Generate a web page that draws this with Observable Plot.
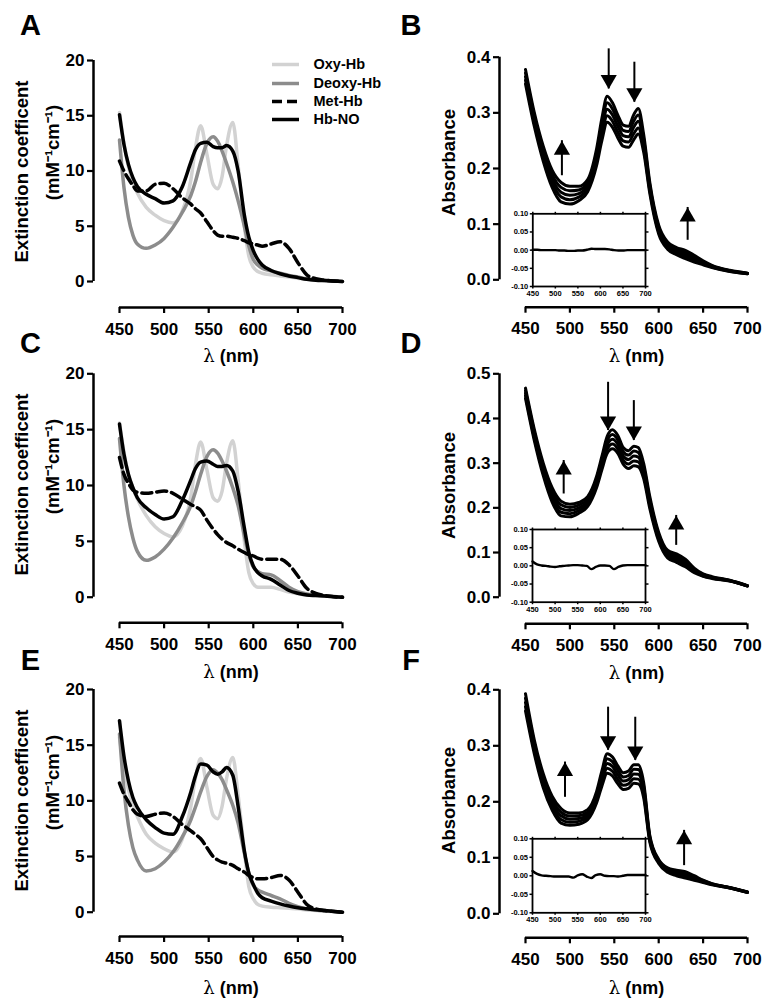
<!DOCTYPE html>
<html><head><meta charset="utf-8">
<script src="https://cdn.jsdelivr.net/npm/d3@7"></script>
<script src="https://cdn.jsdelivr.net/npm/@observablehq/plot@0.6"></script>
<style>
body{margin:0;background:#fff;}
#fig{position:relative;width:772px;height:1007px;background:#fff;overflow:hidden;}
#fig svg{position:absolute;top:0;background:transparent;}
</style></head>
<body><div id="fig"></div>
<script>
// ---------- DATA ----------
const seriesNames = ["Oxy-Hb", "Deoxy-Hb", "Met-Hb", "Hb-NO"];
const lamL = [450,455,460,465,470,480,490,500,510,520,530,535,541,548,555,560,565,570,577,583,590,595,600,605,610,620,630,640,650,660,670,680,700];

const oxyA   = [15.3,12.5,10.4,9.0,8.0,6.7,6.0,5.5,5.3,6.3,9.2,12.0,14.1,11.5,8.8,8.4,9.5,12.3,14.4,10.5,5.0,2.3,1.3,0.9,0.75,0.6,0.5,0.4,0.3,0.2,0.15,0.1,0.0];
const deoxyA = [12.8,8.5,5.8,4.2,3.4,3.0,3.3,3.9,4.9,6.2,7.8,9.0,10.8,12.5,13.1,12.7,11.8,10.7,9.0,7.3,5.0,3.2,2.0,1.5,1.2,0.95,0.75,0.55,0.4,0.25,0.15,0.1,0.0];
const metA   = [10.9,10.0,9.3,8.7,8.2,8.2,8.8,8.9,8.4,7.6,7.0,6.6,6.2,5.4,4.6,4.2,4.1,4.1,4.0,3.9,3.7,3.5,3.4,3.3,3.2,3.4,3.6,3.0,1.7,0.6,0.25,0.12,0.0];
const hbnoA  = [15.1,12.4,10.6,9.4,8.6,7.9,7.5,7.1,7.3,8.5,10.8,11.9,12.5,12.6,12.2,12.1,12.1,12.3,11.8,10.0,6.0,4.0,2.8,2.0,1.5,1.0,0.7,0.5,0.35,0.2,0.12,0.08,0.0];

const oxyC   = [15.6,13.0,11.0,9.8,8.8,7.3,6.3,5.7,5.4,6.3,9.0,11.8,13.9,11.4,8.9,8.6,9.5,12.0,14.0,10.5,5.0,2.2,1.2,0.9,0.9,0.9,0.7,0.45,0.3,0.2,0.15,0.1,0.0];
const deoxyC = [14.2,10.0,7.2,5.3,4.1,3.3,3.6,4.3,5.3,6.6,8.2,9.4,11.0,12.6,13.2,12.9,12.2,11.3,9.8,8.2,5.5,3.8,2.7,2.3,2.1,2.0,1.5,0.9,0.5,0.3,0.2,0.12,0.0];
const metC   = [12.5,11.0,10.2,9.6,9.4,9.3,9.4,9.5,9.3,8.8,8.3,8.1,7.8,6.9,6.1,5.6,5.2,4.9,4.6,4.3,4.0,3.8,3.7,3.5,3.4,3.4,3.4,2.9,1.9,0.8,0.35,0.15,0.0];
const hbnoC  = [15.5,12.8,11.0,9.8,8.9,8.0,7.4,7.0,7.2,8.6,10.5,11.5,12.1,12.2,11.9,11.7,11.7,11.8,11.3,9.5,6.2,4.0,2.8,2.2,1.9,1.6,1.1,0.6,0.35,0.2,0.15,0.1,0.0];

const oxyE   = [15.7,13.0,11.0,9.6,8.6,7.0,6.2,5.7,5.4,6.5,9.5,12.0,13.8,11.2,8.7,8.4,9.5,12.0,13.9,10.5,5.5,2.3,1.2,0.7,0.55,0.45,0.4,0.35,0.3,0.2,0.15,0.1,0.0];
const deoxyE = [16.0,11.0,7.8,5.8,4.7,3.7,3.9,4.5,5.4,6.7,8.3,9.4,10.8,12.2,12.8,12.5,11.9,11.0,9.6,8.0,5.3,3.5,2.4,2.0,1.8,1.5,1.2,0.8,0.5,0.3,0.2,0.12,0.0];
const metE   = [11.6,10.6,9.9,9.2,8.8,8.6,8.8,8.9,8.6,7.9,7.3,7.0,6.6,5.8,5.0,4.7,4.5,4.4,4.2,3.9,3.6,3.3,3.1,3.0,3.0,3.1,3.3,2.9,1.8,0.7,0.3,0.15,0.0];
const hbnoE  = [17.2,14.0,11.8,10.3,9.4,8.3,7.6,7.1,7.0,8.5,10.8,12.2,13.3,13.2,12.6,12.4,12.6,13.0,12.3,9.5,5.5,3.5,2.5,1.7,1.3,1.0,0.75,0.55,0.4,0.3,0.22,0.15,0.0];

const lamR = [450,460,470,480,490,500,510,520,530,536,542,548,554,560,566,572,577,583,590,600,610,620,630,640,650,660,680,700];
const absB = [
 [.378,.300,.240,.197,.175,.168,.168,.180,.235,.290,.330,.318,.296,.278,.276,.297,.308,.262,.175,.098,.068,.058,.053,.044,.034,.026,.017,.012],
 [.3715,.294,.233,.189,.166,.160,.1615,.1745,.2275,.280,.318,.307,.286,.2685,.2665,.286,.296,.254,.170,.094,.065,.055,.049,.041,.032,.025,.0165,.012],
 [.365,.2875,.2265,.1815,.1575,.152,.155,.169,.220,.270,.3065,.296,.2755,.259,.257,.2745,.285,.246,.165,.090,.0615,.0515,.0455,.038,.0305,.024,.016,.0115],
 [.3585,.281,.220,.174,.149,.144,.1485,.1635,.2125,.260,.295,.285,.265,.2495,.2475,.263,.273,.238,.160,.086,.058,.048,.042,.035,.029,.023,.0155,.011],
 [.352,.275,.213,.166,.140,.136,.142,.158,.205,.250,.283,.274,.255,.240,.238,.252,.262,.230,.155,.082,.055,.045,.038,.032,.027,.022,.015,.011]
];
const absD = [
 [.468,.375,.300,.245,.215,.208,.212,.225,.270,.315,.360,.375,.362,.335,.328,.338,.335,.300,.225,.145,.105,.097,.085,.065,.052,.046,.038,.026],
 [.462,.369,.293,.237,.207,.201,.206,.2195,.264,.3075,.3505,.364,.352,.326,.318,.327,.324,.2915,.218,.140,.101,.092,.081,.0625,.051,.045,.0375,.0255],
 [.4565,.3625,.286,.229,.1985,.194,.200,.214,.2575,.300,.341,.3535,.342,.3165,.308,.316,.3135,.283,.2115,.135,.0965,.0875,.0765,.060,.049,.044,.037,.0255],
 [.451,.356,.279,.221,.190,.187,.194,.2085,.251,.2925,.3315,.343,.332,.307,.298,.305,.303,.2745,.205,.130,.092,.083,.072,.0575,.048,.043,.0365,.025],
 [.445,.350,.272,.213,.182,.180,.188,.203,.245,.285,.322,.332,.322,.298,.288,.294,.292,.266,.198,.125,.088,.078,.068,.055,.047,.042,.036,.025]
];
const absF = [
 [.393,.310,.250,.210,.188,.180,.180,.186,.218,.255,.286,.280,.264,.252,.255,.266,.266,.235,.140,.097,.082,.078,.075,.068,.060,.054,.047,.039],
 [.385,.304,.244,.204,.1815,.1745,.175,.1815,.213,.248,.277,.2715,.256,.2445,.247,.258,.2575,.228,.137,.095,.080,.0755,.072,.066,.059,.0535,.0468,.0388],
 [.3775,.2975,.2375,.1975,.175,.169,.170,.177,.208,.2415,.2685,.263,.248,.237,.2395,.2495,.249,.2215,.134,.0935,.078,.073,.0695,.064,.058,.053,.0465,.0385],
 [.370,.291,.231,.191,.1685,.1635,.165,.1725,.203,.235,.260,.2545,.240,.2295,.232,.241,.2405,.215,.131,.092,.076,.0705,.067,.062,.057,.0525,.0462,.0382],
 [.362,.285,.225,.185,.162,.158,.160,.168,.198,.228,.251,.246,.232,.222,.224,.233,.232,.208,.128,.090,.074,.068,.064,.060,.056,.052,.046,.038]
];

const lamIns = [450,460,470,480,490,500,510,520,530,540,550,560,570,580,590,600,610,620,630,640,650,660,670,680,690,700];
const insB = [0.001,0.001,0.000,0.000,0.000,0.000,-0.001,-0.001,-0.002,-0.002,-0.001,-0.001,0.001,0.004,0.003,0.003,0.003,0.002,0.000,-0.001,-0.001,0.000,0.000,0.000,0.000,0.000];
const insD = [0.012,0.004,0.001,0.000,-0.002,-0.003,-0.001,0.000,0.001,0.002,0.002,0.001,0.000,-0.009,-0.003,0.001,0.001,0.000,-0.009,-0.003,0.001,0.002,0.002,0.002,0.002,0.002];
const insF = [0.013,0.005,0.001,0.000,-0.001,-0.002,-0.002,-0.002,-0.002,-0.005,0.001,0.004,-0.002,-0.006,0.002,0.004,0.000,-0.001,-0.001,-0.002,0.000,0.002,0.002,0.002,0.002,0.002];

// arrows: wavelength, start value, tip value
const arrowXB = [491, 543.7, 572.6, 632.6], arrowFromB = [0.187, 0.415, 0.391, 0.071], arrowToB = [0.250, 0.343, 0.319, 0.130];
const arrowXD = [493, 543, 572, 619.7],     arrowFromD = [0.231, 0.481, 0.440, 0.116], arrowToD = [0.306, 0.373, 0.351, 0.183];
const arrowXF = [494.5, 543, 573.6, 628.6], arrowFromF = [0.208, 0.369, 0.351, 0.086], arrowToF = [0.271, 0.292, 0.274, 0.149];

const xTicks = [450,500,550,600,650,700];
const yTicksExt = [0,5,10,15,20];
const yTicksAbs4 = [0,0.1,0.2,0.3,0.4];
const yTicksAbs5 = [0,0.1,0.2,0.3,0.4,0.5];
const insYTicks = [-0.1,-0.05,0,0.05,0.1];

// ---------- DRAWING ----------
const FONT = "'Liberation Sans', Arial, Helvetica, sans-serif";
const fig = document.getElementById("fig");
const W = 386, H = 1007;
const tbl = (lam, vals) => lam.map((l, i) => ({l, v: vals[i]}));

function styleLambda(svg) {
  d3.select(svg).selectAll("text").filter(function() { return this.textContent === "\u03BB (nm)"; })
    .each(function() {
      const t = d3.select(this);
      t.text(null);
      t.append("tspan").attr("font-family", "'DejaVu Serif', 'Liberation Serif', serif").attr("font-weight", "normal").text("\u03BB");
      t.append("tspan").text(" (nm)");
    });
}

function mainPanel(p) {
  const left = p.col * W;
  const mL = p.axisX - left, iL = p.x450 - p.axisX, mR = left + W - p.x700;
  const mT = p.yTop, mB = H - p.xAxis, iB = p.xAxis - p.y0;
  const at = (txt, ax, ay, o = {}) => Plot.text([txt], {frameAnchor: "top-left", text: d => d,
    dx: ax - p.axisX, dy: ay - p.yTop, textAnchor: "middle", lineAnchor: "middle", fill: "black", ...o});
  const invX = px => 450 + (px - p.x450) / (p.x700 - p.x450) * 250;
  const invY = py => (p.y0 - py) / (p.y0 - p.yTop) * p.yMax;
  const marks = [
    Plot.axisY({ticks: p.yTicks, tickSize: 6, tickPadding: 3, tickFormat: p.fmt, label: null, strokeWidth: 2.2}),
    Plot.axisX({ticks: xTicks, tickSize: 6, tickPadding: 9, tickFormat: d => String(d), label: null, strokeWidth: 2.2}),
    Plot.ruleX([450], {y1: 0, y2: p.yMax, dx: -iL, strokeWidth: 2.5}),
    Plot.ruleY([0], {x1: 450, x2: 700, dy: iB, strokeWidth: 2.5})
  ];
  if (p.kind === "ext") {
    const styles = [
      {stroke: "#d2d2d2", strokeWidth: 3.5},
      {stroke: "#8c8c8c", strokeWidth: 3.5},
      {stroke: "black", strokeWidth: 3.5, strokeDasharray: "10,5"},
      {stroke: "black", strokeWidth: 3.5}
    ];
    p.series.forEach((s, i) => marks.push(Plot.line(tbl(lamL, s), {x: "l", y: "v", curve: "monotone-x", ...styles[i]})));
    marks.push(at("Extinction coefficent", p.lab1X, p.lab1Y, {rotate: -90, fontSize: 18.5}));
    marks.push(at("(mM\u207B\u00B9cm\u207B\u00B9)", p.lab2X, p.lab2Y, {rotate: -90, fontSize: 18.5}));
    if (p.legend) {
      const ly = [64, 83, 101, 119];
      seriesNames.forEach((n, i) => {
        marks.push(Plot.ruleY([invY(ly[i])], {x1: invX(272), x2: invX(299), ...styles[i]}));
        marks.push(at(n, 313, ly[i], {textAnchor: "start", fontSize: 14.5}));
      });
    }
  } else {
    p.series.forEach(s => marks.push(Plot.line(tbl(lamR, s), {x: "l", y: "v", curve: "monotone-x", stroke: "black", strokeWidth: 3})));
    const arr = p.arrX.map((x, i) => ({x, from: p.arrFrom[i], to: p.arrTo[i]}));
    const up = arr.filter(d => d.to > d.from), down = arr.filter(d => d.to < d.from);
    marks.push(Plot.ruleX(arr, {x: "x", y1: "from", y2: "to", strokeWidth: 2}));
    marks.push(Plot.dot(up, {x: "x", y: "to", symbol: "triangle", r: 6, fill: "black", dy: 9.3}));
    marks.push(Plot.dot(down, {x: "x", y: "to", symbol: "triangle", r: 6, fill: "black", rotate: 180, dy: -9.3}));
    marks.push(at("Absorbance", p.lab1X, p.lab1Y, {rotate: -90, fontSize: 18.5}));
  }
  marks.push(at(p.letter, p.letterX, p.letterY, {fontSize: 29}));
  marks.push(at("\u03BB (nm)", p.lamX, p.lamY, {fontSize: 18}));
  const svg = Plot.plot({
    width: W, height: H, marginLeft: mL, marginRight: mR, marginTop: mT, marginBottom: mB,
    x: {type: "linear", domain: [450, 700], insetLeft: iL},
    y: {type: "linear", domain: [0, p.yMax], insetBottom: iB},
    style: {fontFamily: FONT, fontSize: "17px", fontWeight: "bold", color: "black", background: "transparent", overflow: "visible"},
    marks
  });
  styleLambda(svg);
  svg.style.left = left + "px";
  fig.appendChild(svg);
}

function insetPanel(q) {
  const left = W;
  const svg = Plot.plot({
    width: W, height: H, marginLeft: q.left - left, marginRight: left + W - q.right, marginTop: q.top, marginBottom: H - q.bottom,
    x: {type: "linear", domain: [450, 700]},
    y: {type: "linear", domain: [-0.1, 0.1]},
    style: {fontFamily: FONT, fontSize: "7.5px", fontWeight: "bold", color: "black", background: "transparent", overflow: "visible"},
    marks: [
      Plot.frame({fill: "white", stroke: "black", strokeWidth: 1.8}),
      Plot.axisY({ticks: insYTicks, tickSize: 2.5, tickPadding: 2, tickFormat: d => d.toFixed(2), label: null, strokeWidth: 1.5}),
      Plot.axisY({anchor: "right", ticks: insYTicks, tickSize: 2.5, tickFormat: () => "", label: null, strokeWidth: 1.5}),
      Plot.axisX({ticks: xTicks, tickSize: 2.5, tickPadding: 1.5, tickFormat: d => String(d), label: null, strokeWidth: 1.5}),
      Plot.axisX({anchor: "top", ticks: xTicks, tickSize: 2.5, tickFormat: () => "", label: null, strokeWidth: 1.5}),
      Plot.line(tbl(lamIns, q.vals), {x: "l", y: "v", curve: "monotone-x", stroke: "black", strokeWidth: 2.4})
    ]
  });
  svg.style.left = left + "px";
  fig.appendChild(svg);
}

const fmtInt = d => String(d), fmt1 = d => d.toFixed(1);
const leftBase = {col: 0, axisX: 93, x450: 119, x700: 342, yMax: 20, yTicks: yTicksExt, fmt: fmtInt, kind: "ext", lab1X: 22, lab2X: 53, letterX: 30, lamX: 230.5};
mainPanel({...leftBase, yTop: 60, y0: 281, xAxis: 307, series: [oxyA, deoxyA, metA, hbnoA], legend: true, letter: "A", letterY: 25, lab1Y: 171, lab2Y: 152, lamY: 356});
mainPanel({...leftBase, yTop: 373.3, y0: 596.7, xAxis: 622.3, series: [oxyC, deoxyC, metC, hbnoC], letter: "C", letterY: 343, lab1Y: 484, lab2Y: 466, lamY: 672});
mainPanel({...leftBase, yTop: 689, y0: 911.7, xAxis: 936, series: [oxyE, deoxyE, metE, hbnoE], letter: "E", letterY: 660, lab1Y: 800, lab2Y: 782, lamY: 988});

const rightBase = {col: 1, axisX: 499, x450: 525, x700: 747, fmt: fmt1, kind: "abs", lab1X: 449, letterX: 410.5, lamX: 636};
mainPanel({...rightBase, yTop: 56.7, y0: 279.3, xAxis: 306.7, yMax: 0.4, yTicks: yTicksAbs4, series: absB, arrX: arrowXB, arrFrom: arrowFromB, arrTo: arrowToB, letter: "B", letterY: 25, lab1Y: 162, lamY: 356});
mainPanel({...rightBase, yTop: 373.3, y0: 596.7, xAxis: 623.3, yMax: 0.5, yTicks: yTicksAbs5, series: absD, arrX: arrowXD, arrFrom: arrowFromD, arrTo: arrowToD, letter: "D", letterY: 343, lab1Y: 485, lamY: 673});
mainPanel({...rightBase, yTop: 689.3, y0: 913.3, xAxis: 937.3, yMax: 0.4, yTicks: yTicksAbs4, series: absF, arrX: arrowXF, arrFrom: arrowFromF, arrTo: arrowToF, letter: "F", letterY: 660, lab1Y: 800, lamY: 988});

insetPanel({left: 532.3, right: 645, top: 213.3, bottom: 286, vals: insB});
insetPanel({left: 532, right: 645, top: 529, bottom: 601.7, vals: insD});
insetPanel({left: 532, right: 645, top: 838.3, bottom: 912.3, vals: insF});
</script></body></html>
